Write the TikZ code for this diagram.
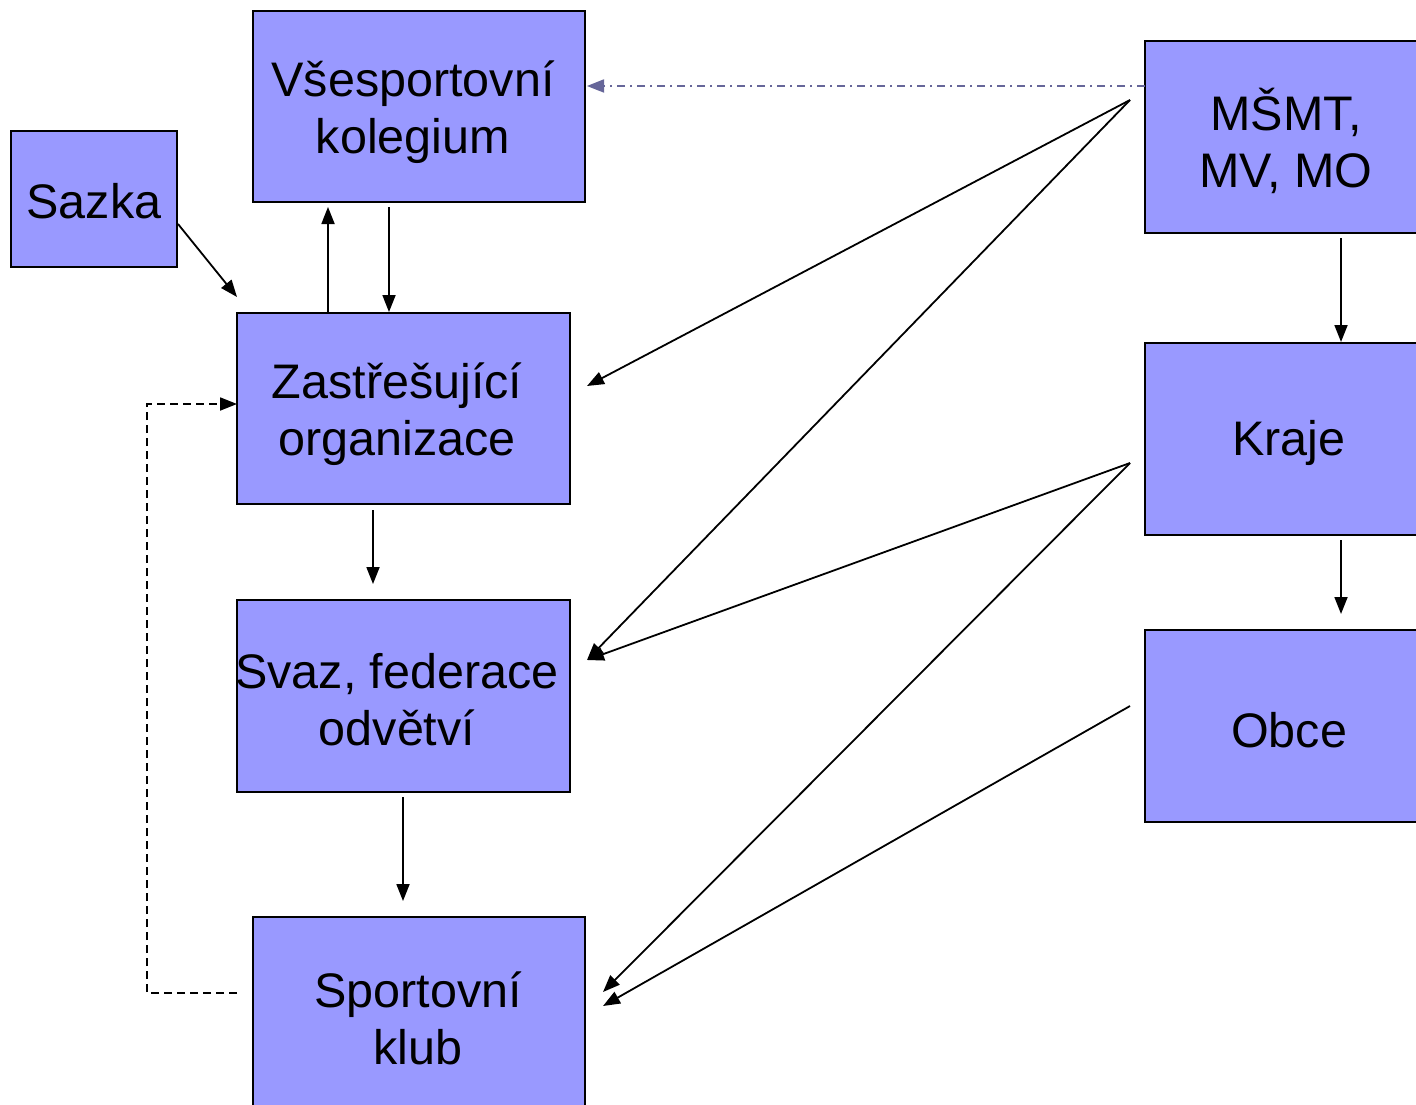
\documentclass[tikz,border=0pt]{standalone}
\usepackage{fontspec}
\setmainfont{Liberation Sans}
\usetikzlibrary{arrows.meta}
\definecolor{boxfill}{HTML}{9999FF}
\definecolor{dashblue}{HTML}{666699}
\begin{document}
\begin{tikzpicture}[x=1pt,y=-1pt,
  box/.style={draw=black,line width=1.8pt,fill=boxfill},
  lbl/.style={align=center,font=\fontsize{48.5}{57}\selectfont,inner sep=0pt},
  arr/.style={line width=1.8pt,-{Triangle[length=17pt,width=13pt]}},
  dasharr/.style={line width=1.8pt,dashed,dash pattern=on 8pt off 5pt,-{Triangle[length=17pt,width=13pt]}},
  dotdash/.style={line width=1.8pt,dashblue,dash pattern=on 8pt off 5pt on 2pt off 5pt,-{Triangle[length=17pt,width=13pt]}}]
\useasboundingbox (0,0) rectangle (1416,1105);
\clip (0,0) rectangle (1416,1105);
% boxes
\draw[box] (253,11) rectangle (585,202);
\node[lbl] (vk) at (413,112) {Všesportovní\\kolegium};
\draw[box] (11,131) rectangle (177,267);
\node[lbl] (sz) at (94,201) {Sazka};
\draw[box] (237,313) rectangle (570,504);
\node[lbl] (zo) at (397,414) {Zastřešující\\organizace};
\draw[box] (237,600) rectangle (570,792);
\node[lbl] (sf) at (397,700) {Svaz, federace\\odvětví};
\draw[box] (253,917) rectangle (585,1115);
\node[lbl] (kl) at (418,1018) {Sportovní\\klub};
\draw[box] (1145,41) rectangle (1425,233);
\node[lbl] (ms) at (1286,141) {MŠMT,\\MV, MO};
\draw[box] (1145,343) rectangle (1425,535);
\node[lbl] (kr) at (1289,443) {Kraje};
\draw[box] (1145,630) rectangle (1425,822);
\node[lbl] (ob) at (1289,730) {Obce};
% connector end points
\coordinate (szA) at (178,224);
\coordinate (zoIn) at (237,297);
\coordinate (zoUp) at (328,313);
\coordinate (vkDn) at (328,207);
\coordinate (vkOut) at (389,207);
\coordinate (zoTop) at (389,312);
\coordinate (zoBot) at (373,510);
\coordinate (sfTop) at (373,584);
\coordinate (sfBot) at (403,797);
\coordinate (klTop) at (403,901);
\coordinate (msBot) at (1341,238);
\coordinate (krTop) at (1341,342);
\coordinate (krBot) at (1341,540);
\coordinate (obTop) at (1341,614);
\coordinate (msL) at (1145,86);
\coordinate (vkR) at (587,86);
\coordinate (msS) at (1130,100);
\coordinate (zoR) at (587,386);
\coordinate (sfR) at (587,660);
\coordinate (krS) at (1130,463);
\coordinate (klR1) at (603,992);
\coordinate (obS) at (1130,706);
\coordinate (klR2) at (603,1006);
\coordinate (klL) at (237,993);
\coordinate (zoL) at (237,404);
% arrows
\draw[arr] (szA) -- (zoIn);
\draw[arr] (zoUp) -- (vkDn);
\draw[arr] (vkOut) -- (zoTop);
\draw[arr] (zoBot) -- (sfTop);
\draw[arr] (sfBot) -- (klTop);
\draw[arr] (msBot) -- (krTop);
\draw[arr] (krBot) -- (obTop);
\draw[dotdash] (msL) -- (vkR);
\draw[arr] (msS) -- (zoR);
\draw[arr] (msS) -- (sfR);
\draw[arr] (krS) -- (sfR);
\draw[arr] (krS) -- (klR1);
\draw[arr] (obS) -- (klR2);
\draw[dasharr] (klL) -- (147,993) -- (147,404) -- (zoL);
\end{tikzpicture}
\end{document}
